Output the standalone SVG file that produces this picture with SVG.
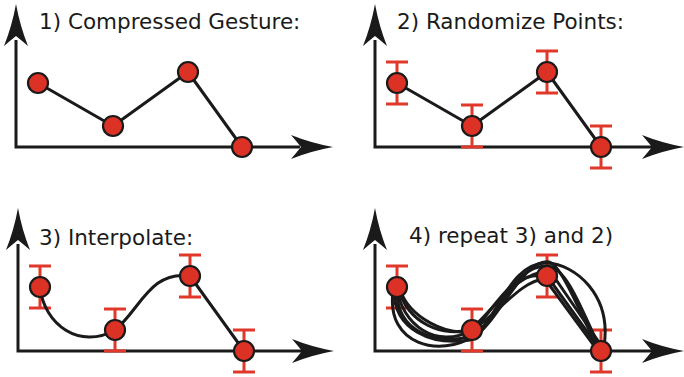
<svg xmlns="http://www.w3.org/2000/svg" width="684" height="377" viewBox="0 0 684 377">
<defs>
<style>
.axis{fill:none;stroke:#1a1a1a;stroke-width:3}
.ah{fill:#1a1a1a;stroke:none}
.line{fill:none;stroke:#1a1a1a;stroke-width:3;stroke-linejoin:round}
.thin{fill:none;stroke:#1a1a1a;stroke-width:3}
.pt{fill:#dc3226;stroke:#1a1a1a;stroke-width:2.2}
.err{fill:none;stroke:#e0392b;stroke-width:3}
.lbl{font-family:"DejaVu Sans",sans-serif;font-size:21.5px;fill:#1a1a1a}
</style>
<path id="ahY" d="M0,0 Q-4,22 -12,42 Q-5,36 0,32 Q5,36 12,42 Q4,22 0,0 Z"/>
<g id="err"><path d="M0,-21 V21 M-11,-21 H11 M-11,21 H11"/></g>
</defs>

<!-- Panel 1 -->
<g id="panel1">
  <g id="axes1">
    <path class="axis" d="M16,40 V147 H300"/>
    <use href="#ahY" class="ah" x="16" y="4"/>
    <use href="#ahY" class="ah" transform="translate(333,147) rotate(90)"/>
  </g>
  <text class="lbl" x="39" y="29">1) Compressed Gesture:</text>
  <g id="connectors1"><path class="line" d="M38,83 L113,126 L188,72 L242,147"/></g>
  <g id="p1a"><circle class="pt" cx="38" cy="83" r="10"/></g>
  <g id="p1b"><circle class="pt" cx="113" cy="126" r="10"/></g>
  <g id="p1c"><circle class="pt" cx="188" cy="72" r="10"/></g>
  <g id="p1d"><circle class="pt" cx="242" cy="147" r="10"/></g>
</g>

<!-- Panel 2 -->
<g id="panel2">
  <g id="axes2">
    <path class="axis" d="M375,40 V147 H659"/>
    <use href="#ahY" class="ah" x="375" y="4"/>
    <use href="#ahY" class="ah" transform="translate(684,147) rotate(90)"/>
  </g>
  <text class="lbl" x="397" y="29">2) Randomize Points:</text>
  <g id="connectors2"><path class="line" d="M397,83 L472,126 L547,72 L601,147"/></g>
  <g class="err">
    <use href="#err" x="397" y="83"/>
    <use href="#err" x="472" y="126"/>
    <use href="#err" x="547" y="72"/>
    <use href="#err" x="601" y="147"/>
  </g>
  <g id="p2a"><circle class="pt" cx="397" cy="83" r="10"/></g>
  <g id="p2b"><circle class="pt" cx="472" cy="126" r="10"/></g>
  <g id="p2c"><circle class="pt" cx="547" cy="72" r="10"/></g>
  <g id="p2d"><circle class="pt" cx="601" cy="147" r="10"/></g>
</g>

<!-- Panel 3 -->
<g id="panel3">
  <g id="axes3">
    <path class="axis" d="M18,244 V351 H302"/>
    <use href="#ahY" class="ah" x="18" y="208"/>
    <use href="#ahY" class="ah" transform="translate(334,351) rotate(90)"/>
  </g>
  <text class="lbl" x="39" y="245">3) Interpolate:</text>
  <g class="err">
    <use href="#err" x="40" y="287"/>
    <use href="#err" x="115" y="330"/>
    <use href="#err" x="190" y="276"/>
    <use href="#err" x="244" y="351"/>
  </g>
  <g id="connectors3"><path class="line" d="M40,287 C44,325 80,350 115,330 C140,310 150,270 190,276 L244,351"/></g>
  <g id="p3a"><circle class="pt" cx="40" cy="287" r="10"/></g>
  <g id="p3b"><circle class="pt" cx="115" cy="330" r="10"/></g>
  <g id="p3c"><circle class="pt" cx="190" cy="276" r="10"/></g>
  <g id="p3d"><circle class="pt" cx="244" cy="351" r="10"/></g>
</g>

<!-- Panel 4 -->
<g id="panel4">
  <g id="axes4">
    <path class="axis" d="M375,244 V351 H659"/>
    <use href="#ahY" class="ah" x="375" y="208"/>
    <use href="#ahY" class="ah" transform="translate(684,351) rotate(90)"/>
  </g>
  <text class="lbl" x="409" y="243">4) repeat 3) and 2)</text>
  <g class="err">
    <use href="#err" x="397" y="287"/>
    <use href="#err" x="472" y="330"/>
    <use href="#err" x="547" y="276"/>
    <use href="#err" x="601" y="351"/>
  </g>
  <g id="connectors4">
    <path class="thin" d="M397,287 C401,325 437,350 472,330 C497,310 507,270 547,276 L601,351"/>
    <path class="thin" d="M397,290 C396,333 438,346 472,336 C500,318 512,264 548,266 C566,268 580,305 601,351"/>
    <path class="thin" d="M399,288 C405,322 445,340 472,328 C492,312 515,272 550,271 L603,348"/>
    <path class="thin" d="M393,292 C386,345 440,358 474,336 C498,318 510,262 547,263 C575,264 612,295 604,346"/>
    <path class="thin" d="M400,290 C410,318 447,336 470,331 C495,318 520,280 545,279 L598,351"/>
    <path class="thin" d="M394,289 C393,330 432,346 470,340 C497,326 522,258 549,262 C562,265 582,318 600,352"/>
  </g>
  <g id="p4a"><circle class="pt" cx="397" cy="287" r="10"/></g>
  <g id="p4b"><circle class="pt" cx="472" cy="330" r="10"/></g>
  <g id="p4c"><circle class="pt" cx="547" cy="276" r="10"/></g>
  <g id="p4d"><circle class="pt" cx="601" cy="351" r="10"/></g>
</g>
</svg>
